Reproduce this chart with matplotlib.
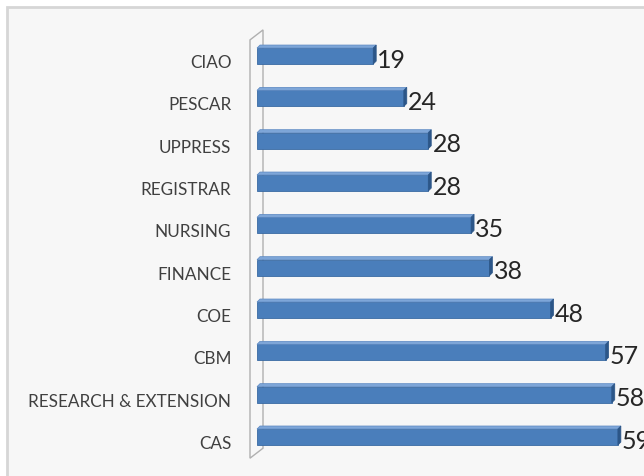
import matplotlib
matplotlib.use('Agg')
import matplotlib.pyplot as plt
from matplotlib.patches import Polygon, Rectangle
from matplotlib.transforms import ScaledTranslation

categories = ['CAS', 'RESEARCH & EXTENSION', 'CBM', 'COE', 'FINANCE',
              'NURSING', 'REGISTRAR', 'UPPRESS', 'PESCAR', 'CIAO']
values = [59, 58, 57, 48, 38, 35, 28, 28, 24, 19]

W, H = 644, 476
fig = plt.figure(figsize=(W / 100, H / 100), dpi=100, facecolor='white')

# chart area frame (runs off the right and bottom edges)
fig.patches.append(Rectangle((7 / W, -0.1), 1.2, (H - 7) / H + 0.1,
                             transform=fig.transFigure, facecolor='#f7f7f7',
                             edgecolor='#d6d6d6', lw=2, zorder=-2))

ax = fig.add_axes([257 / W, 17.8 / H, 367 / W, 423.3 / H])
ax.set_facecolor('none')
for s in ax.spines.values():
    s.set_visible(False)

ypos = list(range(len(categories)))
bh = 0.38
ax.set_xlim(0, 60)
ax.set_ylim(-0.5, len(categories) - 0.5)
ax.set_xticks([])
ax.set_yticks(ypos)
ax.set_yticklabels(categories, fontsize=12.3, color='#404040', family='Lato')
ax.tick_params(axis='y', length=0, pad=18.5)
for lbl in ax.get_yticklabels():
    lbl.set_transform(lbl.get_transform() + ScaledTranslation(0, -4 / 72, fig.dpi_scale_trans))

fig.canvas.draw()

# 3d wall on the left
p0 = ax.transAxes.transform((0, 0))
p1 = ax.transAxes.transform((0, 1))
fx = p0[0] - 7
wb, wt = p0[1] + 0, p1[1] - 5
dxw, dyw = 13, 10
wall = [(fx, wb), (fx, wt), (fx + dxw, wt + dyw), (fx + dxw, wb + dyw)]
fig.patches.append(Polygon(wall, closed=True, transform=None, facecolor='#f7f7f7',
                           edgecolor='#b0b0b0', lw=1, zorder=-1))

# bars with a little depth
ax.barh(ypos, values, height=bh, color='#4a7ebb', edgecolor='#3a6aa3', lw=0.6, zorder=3)
dx, dy = 3, 3
for y, v in zip(ypos, values):
    a = ax.transData.transform((0, y + bh / 2))
    b = ax.transData.transform((v, y + bh / 2))
    c = ax.transData.transform((v, y - bh / 2))
    top = [tuple(a), tuple(b), (b[0] + dx, b[1] + dy), (a[0] + dx, a[1] + dy)]
    end = [tuple(c), tuple(b), (b[0] + dx, b[1] + dy), (c[0] + dx, c[1] + dy)]
    fig.patches.append(Polygon(top, closed=True, transform=None, facecolor='#7ea6d8',
                               edgecolor='#5b88c2', lw=0.5, zorder=4))
    fig.patches.append(Polygon(end, closed=True, transform=None, facecolor='#2c5688',
                               edgecolor='#2c5688', lw=0.5, zorder=4))
    ax.text(v, y, str(v), fontsize=18, color='#262626', family='Lato',
            va='center', ha='left', zorder=5, clip_on=False,
            transform=ax.transData + ScaledTranslation(3 / 72, -3 / 72, fig.dpi_scale_trans))

fig.savefig('out.png', dpi=100, facecolor='white')
